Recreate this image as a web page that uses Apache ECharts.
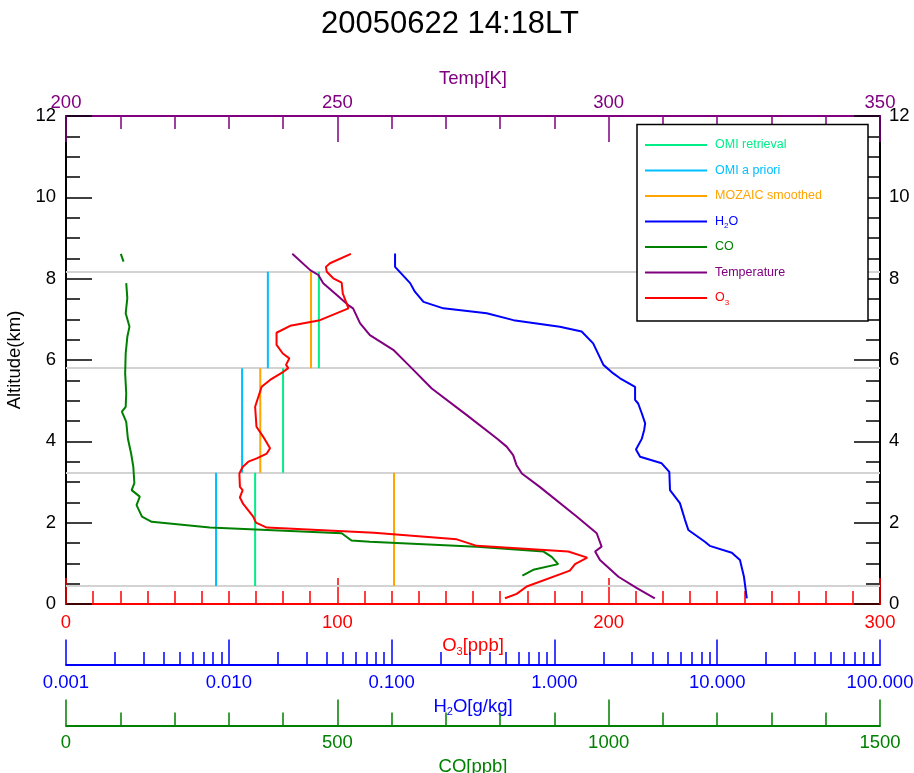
<!DOCTYPE html>
<html><head><meta charset="utf-8">
<script src="https://cdn.jsdelivr.net/npm/echarts@6/dist/echarts.min.js"></script>
<style>html,body{margin:0;padding:0;background:#fff}#c{width:914px;height:773px}</style>
</head><body><div id="c"></div>
<script>
const titleText = '20050622 14:18LT';

// O3 profile (ppb) vs altitude (km)
const o3Alt = [0.14, 0.25, 0.43, 0.82, 0.98, 1.14, 1.29, 1.43, 1.59, 1.75, 1.88, 2.00, 2.15, 2.46, 2.62, 2.80, 2.88, 3.21, 3.37, 3.50, 3.58, 3.70, 3.83, 4.11, 4.36, 4.85, 5.22, 5.34, 5.51, 5.71, 5.80, 5.88, 6.04, 6.16, 6.37, 6.67, 6.84, 6.98, 7.27, 7.39, 7.64, 7.90, 8.01, 8.17, 8.29, 8.38, 8.61];
const o3Val = [161.8, 166.1, 169.8, 185.7, 187.6, 192.1, 185.1, 151.4, 144.0, 113.5, 74.0, 70.0, 69.0, 65.3, 64.1, 65.1, 64.1, 63.9, 65.1, 67.2, 70.3, 74.0, 75.2, 72.7, 70.2, 69.7, 71.5, 72.1, 75.2, 80.1, 81.9, 81.1, 82.3, 79.9, 77.6, 77.6, 82.6, 93.6, 104.1, 103.4, 102.0, 101.6, 98.5, 96.1, 95.8, 97.3, 105.0];

// CO profile (ppb); null = gap in the record
const coAlt = [0.70, 0.84, 0.98, 1.16, 1.29, 1.41, 1.53, 1.56, 1.74, 1.88, 2.02, 2.15, 2.43, 2.64, 2.80, 2.97, 3.38, 3.70, 4.07, 4.48, 4.73, 4.85, 5.18, 5.67, 6.16, 6.57, 6.82, 7.15, 7.52, 7.89, null, 8.42, 8.61];
const coVal = [841, 861, 907, 895, 880, 757, 560, 526, 508, 265, 158, 140, 130, 136, 121, 126, 124, 120, 114, 111, 103, 110, 111, 109, 110, 113, 117, 110, 113, 111, null, 106, 101];

// Temperature (K)
const tAlt = [0.14, 0.39, 0.67, 1.08, 1.29, 1.41, 1.74, 2.15, 2.88, 3.21, 3.42, 3.66, 3.87, 4.07, 4.65, 5.30, 5.88, 6.25, 6.61, 6.90, 7.27, 7.35, 7.60, 7.89, 8.09, 8.21, 8.61];
const tVal = [308.5, 305.2, 301.8, 298.4, 297.5, 298.7, 297.8, 294.1, 287.3, 284.0, 283.0, 282.4, 281.2, 279.4, 273.8, 267.4, 263.1, 260.3, 256.0, 254.2, 252.9, 252.0, 249.9, 247.4, 246.5, 245.0, 241.7];

// H2O (g/kg)
const h2oAlt = [0.14, 0.67, 1.08, 1.26, 1.43, 1.53, 1.82, 2.07, 2.48, 2.80, 3.25, 3.46, 3.62, 3.80, 4.06, 4.28, 4.44, 4.69, 4.93, 5.02, 5.34, 5.55, 5.67, 5.88, 6.41, 6.70, 6.82, 6.98, 7.15, 7.27, 7.43, 7.68, 7.89, 8.29, 8.62];
const h2oVal = [15.2, 14.6, 13.8, 12.3, 9.0, 8.4, 6.65, 6.34, 5.90, 5.13, 5.08, 4.56, 3.36, 3.17, 3.44, 3.56, 3.61, 3.44, 3.27, 3.13, 3.13, 2.53, 2.30, 2.00, 1.73, 1.47, 1.08, 0.56, 0.384, 0.208, 0.157, 0.139, 0.130, 0.105, 0.105];

// OMI layers (km edges) and layer-mean O3 (ppb)
const layerEdges = [0.44, 3.23, 5.80, 8.17];
const omiRetrieval = [69.7, 80.0, 93.2];
const omiApriori = [55.3, 64.9, 74.4];
const mozaicSmoothed = [120.9, 71.6, 90.3];

// axis ticks
const h2oMajorTicks = [0.001, 0.01, 0.1, 1, 10, 100];
const h2oMinorMult = [2, 3, 4, 5, 6, 7, 8, 9];

const C = {
  ret: '#00ee88', apr: '#00bfff', moz: '#ffa500', h2o: '#0000ff',
  co: '#008000', t: '#800080', o3: '#ff0000', gray: '#d3d3d3'
};
const FF = '"Liberation Sans", Arial, Helvetica, sans-serif';
const FS = 18.5;

const pairs = (xs, ys) => xs.map((x, i) => (x == null || ys[i] == null) ? ['-', '-'] : [x, ys[i]]);
function layerSegments(vals) {
  const out = [];
  vals.forEach((v, i) => { out.push([v, layerEdges[i]], [v, layerEdges[i + 1]], ['-', '-']); });
  return out;
}
const h2oMinorTicks = [];
h2oMajorTicks.slice(0, -1).forEach(d => h2oMinorMult.forEach(m => h2oMinorTicks.push(+(d * m).toPrecision(3))));

function xAx(o) {
  const color = o.color;
  return Object.assign({
    type: 'value',
    axisLine: { show: true, onZero: false, lineStyle: { color, width: 2 } },
    axisTick: { show: true, inside: true, length: 26, lineStyle: { color, width: 1.5 } },
    minorTick: { show: true, splitNumber: o.minor || 5, length: 13, lineStyle: { color, width: 1.5 } },
    splitLine: { show: false }, minorSplitLine: { show: false },
    axisLabel: { color, fontSize: FS, fontFamily: FF, margin: o.margin, formatter: v => String(v) },
    nameLocation: 'middle',
    nameTextStyle: { color, fontSize: FS, fontFamily: FF, rich: {
      n: { color, fontSize: FS, fontFamily: FF, lineHeight: 22 },
      s: { color, fontSize: 11, fontFamily: FF, lineHeight: 11, verticalAlign: 'bottom' }
    } }
  }, o.extra);
}

const xAxes = [
  xAx({ color: C.o3, minor: 10, margin: 9, extra: { min: 0, max: 300, interval: 100, position: 'bottom', offset: 0,
        name: '{n|O}{s|3}{n|[ppb]}', nameGap: 31 } }),
  xAx({ color: C.t, minor: 5, margin: 4, extra: { min: 200, max: 350, interval: 50, position: 'top', offset: 0,
        name: 'Temp[K]', nameGap: 22 } }),
  xAx({ color: C.h2o, margin: 9, extra: { type: 'log', logBase: 10, min: 0.001, max: 100, position: 'bottom', offset: 60.5,
        name: '{n|H}{s|2}{n|O[g/kg]}', nameGap: 30,
        minorTick: { show: false },
        axisTick: { show: true, inside: true, length: 25, customValues: h2oMajorTicks, lineStyle: { color: C.h2o, width: 1.5 } },
        axisLabel: { color: C.h2o, fontSize: FS, fontFamily: FF, margin: 9, customValues: h2oMajorTicks,
          formatter: v => Number(v).toFixed(3) } } }),
  xAx({ color: C.h2o, margin: 9, extra: { type: 'log', logBase: 10, min: 0.001, max: 100, position: 'bottom', offset: 60.5,
        axisLine: { show: false, onZero: false }, axisLabel: { show: false }, minorTick: { show: false },
        axisTick: { show: true, inside: true, length: 12.5, customValues: h2oMinorTicks, lineStyle: { color: C.h2o, width: 1.5 } } } }),
  xAx({ color: C.co, minor: 5, margin: 8, extra: { min: 0, max: 1500, interval: 500, position: 'bottom', offset: 121.5,
        name: 'CO[ppb]', nameGap: 30 } })
];

function yAx(pos, margin) {
  return {
    type: 'value', min: 0, max: 12, interval: 2, position: pos,
    axisLine: { show: true, onZero: false, lineStyle: { color: '#000', width: 2 } },
    axisTick: { show: true, inside: true, length: 26, lineStyle: { color: '#000', width: 1.5 } },
    minorTick: { show: true, splitNumber: 4, length: 14, lineStyle: { color: '#000', width: 1.5 } },
    splitLine: { show: false }, minorSplitLine: { show: false },
    axisLabel: { color: '#000', fontSize: FS, fontFamily: FF, margin }
  };
}
const yLeft = Object.assign(yAx('left', 10), { name: 'Altitude(km)', nameLocation: 'middle', nameGap: 35,
  nameTextStyle: { color: '#000', fontSize: FS, fontFamily: FF } });
const yRight = yAx('right', 9);

function lineSeries(name, color, xi, data, extra) {
  return Object.assign({
    name, type: 'line', xAxisIndex: xi, yAxisIndex: 0, data, color,
    showSymbol: false, symbol: 'none', connectNulls: false, silent: true,
    lineStyle: { color, width: 2 }, itemStyle: { color }, z: 3
  }, extra || {});
}

const series = [
  lineSeries('OMI retrieval', C.ret, 0, layerSegments(omiRetrieval), {
    markLine: { silent: true, symbol: ['none', 'none'], label: { show: false }, z: 1,
      lineStyle: { color: C.gray, width: 2, type: 'solid' },
      emphasis: { disabled: true },
      data: layerEdges.map(v => ({ yAxis: v })) }
  }),
  lineSeries('OMI a priori', C.apr, 0, layerSegments(omiApriori)),
  lineSeries('MOZAIC smoothed', C.moz, 0, layerSegments(mozaicSmoothed)),
  lineSeries('H2O', C.h2o, 2, pairs(h2oVal, h2oAlt)),
  lineSeries('CO', C.co, 4, pairs(coVal, coAlt)),
  lineSeries('Temperature', C.t, 1, pairs(tVal, tAlt)),
  lineSeries('O3', C.o3, 0, pairs(o3Val, o3Alt))
];

const legendColors = [C.ret, C.apr, C.moz, C.h2o, C.co, C.t, C.o3];
const legendData = series.map((s, i) => ({ name: s.name, textStyle: { color: legendColors[i] } }));

const chart = echarts.init(document.getElementById('c'), null, { renderer: 'canvas' });
chart.setOption({
  animation: false,
  backgroundColor: '#fff',
  title: { text: titleText, left: 321, top: 9, padding: 0,
    textStyle: { fontSize: 31, fontWeight: 'normal', color: '#000', fontFamily: FF } },
  grid: { left: 66, right: 34, top: 116, bottom: 169, containLabel: false, outerBoundsMode: 'none' },
  xAxis: xAxes,
  yAxis: [yLeft, yRight],
  graphic: [{ type: 'rect', z: 10, silent: true,
    shape: { x: 637, y: 124.5, width: 231, height: 196.5 },
    style: { fill: '#fff', stroke: '#000', lineWidth: 1.5 } }],
  legend: {
    orient: 'vertical', left: 645, top: 136.5, padding: 0, z: 20,
    icon: 'rect', itemWidth: 62, itemHeight: 2, itemGap: 8.5, selectedMode: false,
    data: legendData,
    textStyle: { fontSize: 12.5, fontFamily: FF, lineHeight: 17, padding: [0, 0, 0, 3],
      rich: {
        hb: { color: C.h2o, fontSize: 12.5, fontFamily: FF, lineHeight: 17 },
        hs: { color: C.h2o, fontSize: 8, fontFamily: FF, lineHeight: 8, verticalAlign: 'bottom' },
        rb: { color: C.o3, fontSize: 12.5, fontFamily: FF, lineHeight: 17 },
        rs: { color: C.o3, fontSize: 8, fontFamily: FF, lineHeight: 8, verticalAlign: 'bottom' }
      } },
    formatter: name => name === 'H2O' ? '{hb|H}{hs|2}{hb|O}' : (name === 'O3' ? '{rb|O}{rs|3}' : name)
  },
  series
});
</script>
</body></html>
